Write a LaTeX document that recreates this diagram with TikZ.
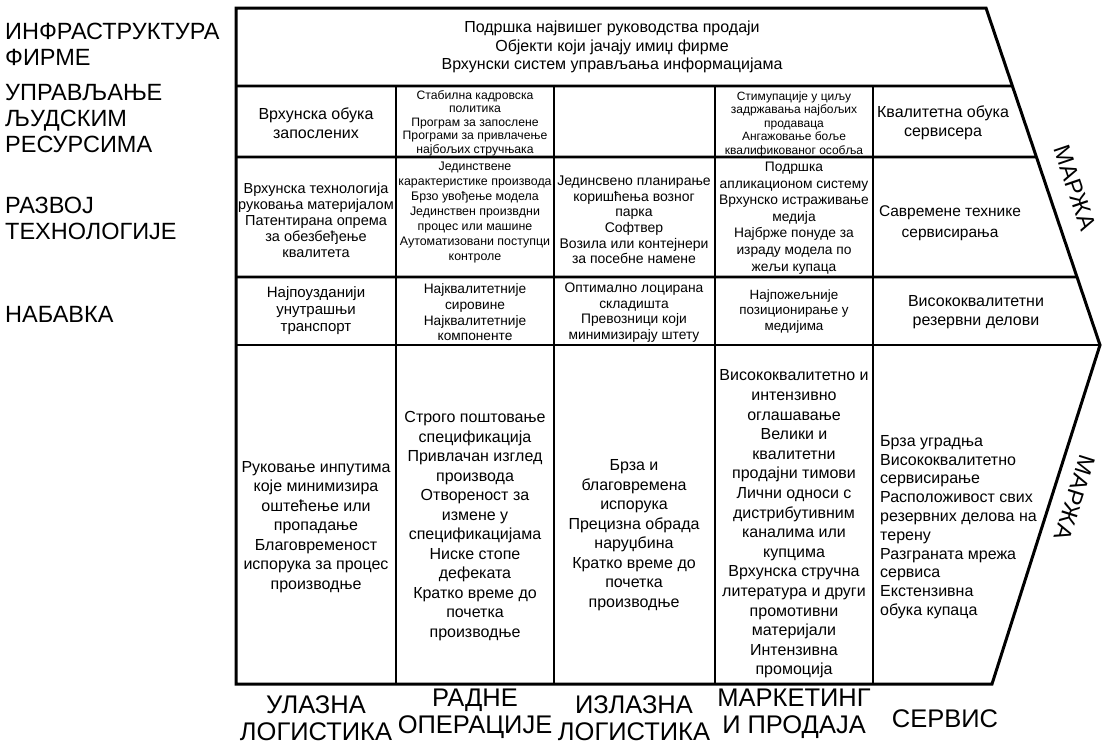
\documentclass[tikz,border=0pt]{standalone}
\usepackage{fontspec}
\setmainfont{Liberation Sans}
\usetikzlibrary{calc}
\begin{document}
\begin{tikzpicture}[x=1pt,y=-1pt,
  outline/.style={line width=3pt,line join=miter},
  divider/.style={line width=2.6pt},
  txt/.style={align=center,inner sep=0pt},
  fsz/.style 2 args={font=\fontsize{#1}{#2}\selectfont},
  head/.style={anchor=west,align=left,inner sep=0pt,font=\fontsize{23.5}{26}\selectfont},
  foot/.style={align=center,inner sep=0pt,font=\fontsize{25.5}{27}\selectfont},
  margin/.style={inner sep=0pt,font=\fontsize{23.5}{26}\selectfont}]
\useasboundingbox (0,0) rectangle (1104,745);

% corners of the value-chain arrow
\coordinate (A) at (236,8);
\coordinate (B) at (986,8);
\coordinate (T) at (1100,345);
\coordinate (C) at (992,684);
\coordinate (D) at (236,684);

% support-activity row lines, ending on the upper slanted edge
\draw[divider] (236,86)  -- ($(B)!0.2315!(T)$);
\draw[divider] (236,157) -- ($(B)!0.4421!(T)$);
\draw[divider] (236,277) -- ($(B)!0.7982!(T)$);
\draw[divider] (236,345) -- (T);
% column lines
\foreach \x in {396,554,715,873}
  \draw[divider] (\x,86) -- (\x,684);
% outer outline
\draw[outline] (A) -- (B) -- (T) -- (C) -- (D) -- cycle;

% row headings on the left
\node[head] (h1) at (5,44)  {ИНФРАСТРУКТУРА\\ФИРМЕ};
\node[head] (h2) at (5,119) {УПРАВЉАЊЕ\\ЉУДСКИМ\\РЕСУРСИМА};
\node[head] (h3) at (5,218) {РАЗВОЈ\\ТЕХНОЛОГИЈЕ};
\node[head] (h4) at (5,314) {НАБАВКА};

% firm infrastructure
\node[txt,fsz={16}{18.5}] (infra) at (612,47)
  {Подршка највишег руководства продаји\\Објекти који јачају имиџ фирме\\Врхунски систем управљања информацијама};

% human resource management
\node[txt,fsz={16}{18.5}] (hr1) at (316,123) {Врхунска обука\\запослених};
\node[txt,fsz={12.2}{13.5}] (hr2) at (475,123)
  {Стабилна кадровска\\политика\\Програм за запослене\\Програми за привлачење\\најбољих стручњака};
\node[txt,fsz={12}{13.5}] (hr4) at (794,124)
  {Стимупације у циљу\\задржавања најбољих\\продаваца\\Ангажовање боље\\квалификованог особља};
\node[txt,fsz={16}{18.5}] (hr5) at (943,123) {Квалитетна обука\\сервисера};

% technology development
\node[txt,fsz={14.5}{16}] (t1) at (316,220)
  {Врхунска технологија\\руковања материјалом\\Патентирана опрема\\за обезбеђење\\квалитета};
\node[txt,fsz={12.4}{15}] (t2) at (475,213)
  {Јединствене\\карактеристике производа\\Брзо увођење модела\\Јединствен произвдни\\процес или машине\\Аутоматизовани поступци\\контроле};
\node[txt,fsz={14}{15.6}] (t3) at (634,220)
  {Јединсвено планирање\\коришћења возног\\парка\\Софтвер\\Возила или контејнери\\за посебне намене};
\node[txt,fsz={13.8}{16.6}] (t4) at (794,218)
  {Подршка\\апликационом систему\\Врхунско истраживање\\медија\\Најбрже понуде за\\израду модела по\\жељи купаца};
\node[txt,fsz={15.5}{21}] (t5) at (950,223) {Савремене технике\\сервисирања};

% procurement
\node[txt,fsz={15}{17}] (p1) at (316,311) {Најпоузданији\\унутрашњи\\транспорт};
\node[txt,fsz={13.7}{15.7}] (p2) at (475,312.5)
  {Најквалитетније\\сировине\\Најквалитетније\\компоненте};
\node[txt,fsz={13.8}{15.7}] (p3) at (634,312.5)
  {Оптимално лоцирана\\складишта\\Превозници који\\минимизирају штету};
\node[txt,fsz={13.4}{15.5}] (p4) at (794,311.5) {Најпожељније\\позиционирање у\\медијима};
\node[txt,fsz={16}{19.5}] (p5) at (976,312) {Висококвалитетни\\резервни делови};

% primary activities
\node[txt,fsz={16}{19.5}] (m1) at (316,527)
  {Руковање инпутима\\које минимизира\\оштећење или\\пропадање\\Благовременост\\испорука за процес\\производње};
\node[txt,fsz={16}{19.5}] (m2) at (475,526)
  {Строго поштовање\\спецификација\\Привлачан изглед\\производа\\Отвореност за\\измене у\\спецификацијама\\Ниске стопе\\дефеката\\Кратко време до\\почетка\\производње};
\node[txt,fsz={16}{19.5}] (m3) at (634,535)
  {Брза и\\благовремена\\испорука\\Прецизна обрада\\наруџбина\\Кратко време до\\почетка\\производње};
\node[txt,fsz={16}{19.6}] (m4) at (794,524)
  {Висококвалитетно и\\интензивно\\оглашавање\\Велики и\\квалитетни\\продајни тимови\\Лични односи с\\дистрибутивним\\каналима или\\купцима\\Врхунска стручна\\литература и други\\промотивни\\материјали\\Интензивна\\промоција};
\node[txt,align=left,anchor=west,fsz={16}{18.8}] (m5) at (880,527)
  {Брза уградња\\Висококвалитетно\\сервисирање\\Расположивост свих\\резервних делова на\\терену\\Разграната мрежа\\сервиса\\Екстензивна\\обука купаца};

% margin labels along the slanted edges
\node[margin,rotate=-71.3]  (mg1) at (1075,188) {МАРЖА};
\node[margin,rotate=-107.5] (mg2) at (1075,498) {МАРЖА};

% column headings below
\node[foot] (f1) at (316,718) {УЛАЗНА\\ЛОГИСТИКА};
\node[foot] (f2) at (475,714) {РАДНЕ\\ОПЕРАЦИЈЕ};
\node[foot] (f3) at (634,718) {ИЗЛАЗНА\\ЛОГИСТИКА};
\node[foot] (f4) at (794,714) {МАРКЕТИНГ\\И ПРОДАЈА};
\node[foot] (f5) at (945,719) {СЕРВИС};
\end{tikzpicture}
\end{document}
